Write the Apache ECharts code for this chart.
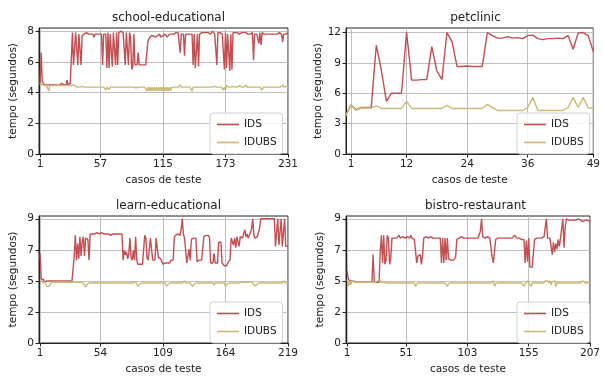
<!DOCTYPE html>
<html>
<head>
<meta charset="utf-8">
<script src="https://cdn.jsdelivr.net/npm/echarts@6/dist/echarts.min.js"></script>
<style>
  html, body { margin: 0; padding: 0; background: #fff; }
  #chart { width: 603px; height: 379px; }
</style>
</head>
<body>
<div id="chart"></div>
<script>
// school-educational, casos 1..231
const schoolIds = [
  4.5,6.6,4.7,4.6,4.5,4.5,4.5,4.6,4.5,4.5,
  4.5,4.5,4.5,4.6,4.5,4.5,4.5,4.5,4.5,4.5,
  4.6,4.5,4.5,4.5,4.5,4.8,4.5,4.5,4.6,4.5,
  7.9,5.8,5.8,7.9,7.8,5.8,7.8,7.9,5.8,7.7,
  7.8,7.8,7.9,7.9,7.8,7.8,7.9,7.8,7.7,7.8,
  7.6,7.8,7.9,7.8,7.7,7.8,7.9,7.8,5.8,7.8,
  7.9,7.8,5.6,7.9,5.6,7.8,7.9,5.7,7.9,7.8,
  5.8,7.9,5.8,7.9,7.9,8.0,7.9,7.9,7.8,5.8,
  7.9,7.9,5.8,7.9,7.6,5.5,5.7,7.8,5.8,5.8,
  5.8,6.6,5.8,5.8,5.8,5.9,5.8,5.8,5.8,5.8,
  7.3,7.5,7.6,7.7,7.6,7.7,7.8,7.6,7.7,7.7,
  7.6,7.8,7.6,7.7,7.7,7.6,7.8,7.7,7.6,7.7,
  7.8,7.7,7.8,7.9,7.8,7.8,7.9,7.8,7.9,7.8,
  6.6,7.8,7.9,7.8,6.4,7.8,7.9,7.8,7.9,7.8,
  7.9,7.8,5.8,7.8,5.6,5.7,7.8,5.7,7.8,7.9,
  7.9,7.8,7.9,8.0,7.9,7.8,7.9,7.9,7.8,7.9,
  8.0,7.9,7.8,7.9,5.8,7.9,7.8,7.9,7.9,7.8,
  7.9,5.5,7.9,5.6,7.8,7.9,5.4,7.8,5.5,7.9,
  7.8,7.9,7.8,7.9,7.9,7.8,7.9,7.9,8.0,7.9,
  7.8,7.9,7.9,7.8,7.9,7.8,7.9,7.9,6.1,7.8,
  7.9,7.8,7.9,7.2,7.9,7.1,7.9,7.8,7.8,7.9,
  7.8,7.8,7.8,7.9,7.8,7.8,7.8,7.9,7.8,7.8,
  7.8,7.8,7.9,7.8,7.8,7.3,7.8,7.9,7.8,7.9,
  7.9
];
const schoolIdubs = [
  4.6,4.5,4.5,4.45,4.45,4.5,4.45,4.45,4.1,4.45,
  4.45,4.45,4.5,4.45,4.45,4.45,4.45,4.5,4.45,4.45,
  4.45,4.45,4.5,4.45,4.45,4.45,4.45,4.45,4.5,4.45,
  4.55,4.5,4.55,4.4,4.5,4.35,4.35,4.35,4.35,4.4,
  4.35,4.35,4.35,4.35,4.35,4.35,4.4,4.35,4.35,4.35,
  4.35,4.35,4.35,4.35,4.4,4.35,4.35,4.35,4.35,4.35,
  4.35,4.15,4.35,4.35,4.2,4.35,4.35,4.35,4.35,4.35,
  4.35,4.35,4.4,4.35,4.35,4.35,4.35,4.35,4.35,4.35,
  4.45,4.35,4.35,4.35,4.35,4.35,4.35,4.35,4.35,4.3,
  4.35,4.35,4.35,4.35,4.35,4.35,4.35,4.35,4.35,4.1,
  4.35,4.1,4.35,4.1,4.35,4.1,4.35,4.1,4.35,4.1,
  4.35,4.1,4.35,4.1,4.35,4.1,4.35,4.1,4.35,4.1,
  4.35,4.1,4.35,4.35,4.35,4.35,4.35,4.35,4.35,4.35,
  4.5,4.35,4.35,4.35,4.35,4.35,4.35,4.35,4.35,4.35,
  4.35,4.1,4.35,4.35,4.35,4.35,4.35,4.4,4.35,4.35,
  4.35,4.35,4.35,4.35,4.35,4.35,4.35,4.35,4.35,4.35,
  4.35,4.35,4.4,4.35,4.35,4.35,4.35,4.35,4.35,4.35,
  4.15,4.35,4.15,4.45,4.35,4.35,4.35,4.35,4.35,4.4,
  4.35,4.35,4.35,4.35,4.35,4.45,4.35,4.35,4.35,4.35,
  4.35,4.5,4.35,4.35,4.35,4.35,4.35,4.45,4.35,4.35,
  4.35,4.35,4.35,4.35,4.35,4.35,4.15,4.35,4.35,4.35,
  4.35,4.35,4.35,4.35,4.35,4.35,4.35,4.35,4.35,4.35,
  4.35,4.35,4.35,4.35,4.35,4.5,4.35,4.35,4.4,4.35,
  4.35
];

// petclinic, plotted at 0..49
const petIds = [
  3.9,4.85,4.35,4.6,4.6,4.6,10.75,8.3,5.2,6.0,
  6.0,6.0,12.05,7.3,7.3,7.35,7.35,10.6,8.2,7.35,
  12.0,11.1,8.65,8.65,8.7,8.65,8.65,8.65,12.0,11.7,
  11.45,11.45,11.6,11.45,11.5,11.4,11.7,11.75,11.4,11.3,
  11.4,11.4,11.45,11.4,11.7,10.35,11.95,12.0,11.7,10.1
];
const petIdubs = [
  3.8,4.85,4.3,4.55,4.55,4.55,4.75,4.5,4.5,4.5,
  4.5,4.5,5.2,4.5,4.5,4.5,4.5,4.5,4.5,4.5,
  4.8,4.5,4.5,4.5,4.5,4.5,4.5,4.5,4.9,4.6,
  4.3,4.3,4.3,4.3,4.3,4.3,4.6,5.6,4.3,4.3,
  4.3,4.3,4.3,4.3,4.6,5.6,4.6,5.6,4.55,4.55
];

// learn-educational, casos 1..219
const learnIds = [
  6.5,4.6,4.6,4.6,4.4,4.5,4.5,4.5,4.5,4.5,
  4.5,4.5,4.5,4.5,4.5,4.5,4.5,4.5,4.5,4.5,
  4.5,4.5,4.5,4.5,4.5,4.5,4.5,4.5,4.5,4.5,
  6.3,7.8,6.0,7.2,6.1,7.7,6.3,7.3,7.7,6.3,
  7.6,7.7,7.5,6.0,7.9,7.8,7.9,8.0,7.9,7.9,
  8.0,7.9,7.9,7.9,8.0,7.9,7.9,7.8,7.9,8.0,
  7.9,7.9,7.8,7.9,7.9,7.8,7.9,7.8,7.9,7.8,
  7.9,7.8,7.9,6.0,6.7,6.4,6.6,6.1,6.5,7.6,
  6.2,6.0,6.7,6.0,7.7,6.0,5.7,5.8,5.7,5.8,
  5.7,5.8,7.8,7.6,6.2,6.0,5.9,7.6,7.7,6.0,
  5.9,6.0,7.6,7.7,6.2,6.3,6.1,5.9,5.7,5.7,
  5.8,5.7,5.8,5.7,5.8,6.0,5.9,6.0,7.6,7.8,
  7.7,7.9,7.8,7.8,8.2,9.0,7.9,7.6,7.5,5.8,
  5.8,6.8,6.0,7.5,7.6,7.6,7.7,7.6,5.9,5.9,
  6.0,5.9,6.0,5.9,7.7,7.8,7.8,7.7,7.8,7.6,
  5.8,5.7,5.8,6.5,5.8,5.7,5.8,7.3,7.4,7.3,
  5.8,5.7,5.6,5.7,5.6,5.8,5.7,6.0,7.6,7.7,
  7.1,7.6,6.9,7.7,7.6,7.0,7.7,7.8,7.6,7.7,
  8.2,7.7,7.9,7.6,7.8,8.0,8.3,9.0,7.8,7.6,
  7.6,7.7,7.6,8.3,9.0,9.0,9.0,9.0,9.0,9.0,
  9.0,9.0,9.0,9.0,9.0,9.0,9.0,7.0,7.0,9.0,
  7.1,7.0,9.0,7.0,7.1,9.0,7.0,7.1,7.0
];
const learnIdubs = [
  4.6,4.5,4.4,4.5,4.4,4.3,4.1,4.1,4.1,4.3,
  4.4,4.4,4.4,4.4,4.4,4.4,4.4,4.4,4.4,4.4,
  4.4,4.4,4.4,4.4,4.4,4.4,4.4,4.4,4.4,4.4,
  4.4,4.4,4.4,4.4,4.4,4.4,4.4,4.4,4.4,4.2,
  4.05,4.05,4.3,4.35,4.35,4.35,4.35,4.35,4.35,4.35,
  4.35,4.35,4.35,4.35,4.35,4.35,4.35,4.35,4.35,4.35,
  4.35,4.35,4.35,4.35,4.35,4.35,4.35,4.35,4.35,4.35,
  4.35,4.35,4.35,4.35,4.35,4.35,4.35,4.35,4.35,4.35,
  4.35,4.35,4.35,4.35,4.45,4.4,4.1,4.1,4.3,4.35,
  4.35,4.35,4.35,4.35,4.35,4.35,4.35,4.35,4.35,4.35,
  4.35,4.35,4.35,4.35,4.35,4.35,4.35,4.35,4.35,4.35,
  4.35,4.1,4.1,4.3,4.35,4.35,4.35,4.35,4.35,4.35,
  4.35,4.35,4.35,4.35,4.35,4.35,4.35,4.5,4.35,4.35,
  4.35,4.35,4.35,4.35,4.1,4.1,4.3,4.35,4.35,4.35,
  4.35,4.35,4.35,4.35,4.35,4.35,4.35,4.35,4.35,4.35,
  4.35,4.35,4.35,4.2,4.35,4.35,4.35,4.35,4.35,4.35,
  4.35,4.35,4.35,4.1,4.1,4.3,4.35,4.35,4.35,4.35,
  4.35,4.35,4.35,4.35,4.35,4.35,4.45,4.4,4.4,4.4,
  4.5,4.4,4.4,4.4,4.4,4.45,4.35,4.35,4.35,4.1,
  4.1,4.3,4.35,4.35,4.35,4.35,4.35,4.35,4.35,4.35,
  4.35,4.35,4.35,4.35,4.35,4.35,4.35,4.35,4.35,4.35,
  4.35,4.35,4.35,4.35,4.5,4.45,4.35,4.35,4.35
];

// bistro-restaurant, casos 1..207
const bistroIds = [
  5.2,4.6,4.6,4.5,4.6,4.5,4.4,4.4,4.4,4.4,
  4.4,4.4,4.4,4.4,4.4,4.4,4.4,4.4,4.4,4.4,
  4.4,4.4,6.4,4.4,4.4,4.4,4.5,4.4,6.5,7.8,
  5.8,7.8,5.7,6.0,7.8,7.6,5.7,6.2,7.6,7.6,
  7.6,7.7,7.6,7.6,7.8,7.6,7.6,7.7,7.6,7.6,
  7.6,7.7,7.6,7.6,7.8,7.6,7.6,7.5,7.6,5.8,
  6.3,6.4,6.4,5.7,6.4,7.6,7.6,7.7,7.6,7.6,
  7.6,7.7,7.6,7.6,7.6,7.6,7.7,7.6,7.6,7.6,
  5.8,7.6,5.8,7.6,6.0,7.6,6.1,6.0,6.0,6.1,
  6.0,6.1,6.2,7.5,7.6,7.6,7.6,7.7,7.6,7.6,
  7.6,7.6,7.7,7.6,7.6,7.6,7.6,7.6,7.7,7.6,
  7.6,7.6,7.6,8.1,9.0,7.7,7.6,7.6,7.6,7.7,
  7.6,7.6,7.6,6.2,5.8,5.8,7.5,7.6,7.6,7.6,
  7.6,7.6,7.6,7.6,7.6,7.6,7.6,7.6,7.6,7.6,
  7.6,7.7,7.8,7.7,7.6,7.6,7.6,7.5,7.5,7.4,
  7.5,5.8,7.4,5.9,7.6,5.5,5.6,5.5,5.4,7.5,
  7.6,7.6,7.6,7.6,7.6,7.6,7.6,7.7,7.6,9.0,
  7.6,7.6,7.6,7.5,6.4,7.3,6.6,7.2,6.8,7.5,
  7.0,7.6,7.6,9.0,6.9,8.4,9.0,8.9,8.9,8.9,
  8.9,9.0,8.9,8.9,8.9,8.9,9.0,8.9,8.9,8.9,
  8.8,8.9,8.9,8.9,8.9,8.8,8.8
];
const bistroIdubs = [
  4.6,4.1,4.5,4.2,4.5,4.6,4.5,4.4,4.4,4.4,
  4.4,4.4,4.4,4.4,4.4,4.4,4.4,4.4,4.4,4.4,
  4.4,4.4,4.4,4.4,4.4,4.4,4.5,4.4,4.6,4.4,
  4.5,4.4,4.35,4.35,4.35,4.35,4.35,4.35,4.35,4.35,
  4.35,4.35,4.35,4.35,4.35,4.35,4.35,4.35,4.35,4.35,
  4.35,4.35,4.35,4.35,4.35,4.35,4.35,4.35,4.1,4.3,
  4.35,4.35,4.35,4.35,4.35,4.35,4.35,4.35,4.35,4.35,
  4.35,4.35,4.35,4.35,4.35,4.35,4.35,4.35,4.35,4.35,
  4.35,4.35,4.35,4.35,4.35,4.1,4.3,4.35,4.35,4.35,
  4.35,4.35,4.35,4.35,4.35,4.35,4.35,4.35,4.35,4.35,
  4.35,4.35,4.35,4.35,4.35,4.35,4.35,4.35,4.35,4.35,
  4.35,4.35,4.35,4.35,4.35,4.35,4.35,4.35,4.35,4.35,
  4.35,4.35,4.35,4.35,4.5,4.1,4.3,4.35,4.35,4.35,
  4.35,4.35,4.35,4.35,4.35,4.35,4.35,4.35,4.35,4.35,
  4.35,4.35,4.35,4.35,4.35,4.35,4.35,4.35,4.35,4.35,
  4.1,4.3,4.35,4.5,4.35,4.3,4.1,4.35,4.35,4.35,
  4.35,4.35,4.35,4.35,4.35,4.35,4.35,4.35,4.5,4.4,
  4.5,4.35,4.5,4.2,4.45,4.35,4.5,4.1,4.35,4.35,
  4.35,4.35,4.35,4.35,4.35,4.35,4.35,4.35,4.35,4.35,
  4.35,4.35,4.35,4.35,4.35,4.35,4.35,4.35,4.35,4.35,
  4.5,4.45,4.35,4.35,4.35,4.35,4.35
];

const schoolXTicks = [1, 57, 115, 173, 231];
const petXTicks = [1, 12, 24, 36, 49];
const learnXTicks = [1, 54, 109, 164, 219];
const bistroXTicks = [1, 51, 103, 155, 207];
const schoolYTicks = [0, 2, 4, 6, 8];
const petYTicks = [0, 3, 6, 9, 12];
const learnYTicks = [0, 2.25, 4.5, 6.75, 9];
const bistroYTicks = [0, 2.25, 4.5, 6.75, 9];

const RED = '#C44E52';
const GOLD = '#CCB974';
const FONT = 'DejaVu Sans';
const TXT = '#222';

const panels = [
  { title: 'school-educational', ids: schoolIds, idubs: schoolIdubs, x0: 1, xMax: 231,
    xTicks: schoolXTicks, yTicks: schoolYTicks, yMax: 8.2, left: 39, top: 28, h: 126 },
  { title: 'petclinic', ids: petIds, idubs: petIdubs, x0: 0, xMax: 49,
    xTicks: petXTicks, yTicks: petYTicks, yMax: 12.45, left: 346, top: 28, h: 126 },
  { title: 'learn-educational', ids: learnIds, idubs: learnIdubs, x0: 1, xMax: 219,
    xTicks: learnXTicks, yTicks: learnYTicks, yMax: 9.2, left: 39, top: 216, h: 127 },
  { title: 'bistro-restaurant', ids: bistroIds, idubs: bistroIdubs, x0: 1, xMax: 207,
    xTicks: bistroXTicks, yTicks: bistroYTicks, yMax: 9.2, left: 346, top: 216, h: 127 }
];
const W = 249;

const toPairs = (arr, x0) => arr.map((v, i) => [i + x0, v]);

const option = {
  animation: false,
  backgroundColor: '#fff',
  textStyle: { fontFamily: FONT },
  title: [], grid: [], xAxis: [], yAxis: [], legend: [], series: []
};

panels.forEach((p, k) => {
  option.title.push({
    text: p.title,
    left: p.left + W / 2, top: p.top - 21, textAlign: 'center',
    textStyle: { fontFamily: FONT, fontSize: 12, fontWeight: 'normal', color: TXT }
  });
  option.grid.push({
    left: p.left, top: p.top, width: W, height: p.h,
    show: true, borderColor: '#222', borderWidth: 1, backgroundColor: 'transparent'
  });
  option.xAxis.push({
    type: 'value', gridIndex: k, min: 0, max: p.xMax,
    name: 'casos de teste', nameLocation: 'middle', nameGap: 21,
    nameTextStyle: { fontFamily: FONT, fontSize: 10.5, color: TXT },
    axisLine: { show: true, onZero: false, lineStyle: { color: '#222', width: 1 } },
    axisTick: { show: true, length: 3.5, customValues: p.xTicks, lineStyle: { color: '#222' } },
    axisLabel: { customValues: p.xTicks, fontFamily: FONT, fontSize: 10.5, color: TXT, margin: 5 },
    splitLine: { show: true, lineStyle: { color: '#b0b0b0', width: 0.8 } }
  });
  option.yAxis.push({
    type: 'value', gridIndex: k, min: 0, max: p.yMax,
    name: 'tempo (segundos)', nameLocation: 'middle', nameGap: 20, nameRotate: 90,
    nameTextStyle: { fontFamily: FONT, fontSize: 10.5, color: TXT },
    axisLine: { show: true, lineStyle: { color: '#222', width: 1 } },
    axisTick: { show: true, length: 3.5, customValues: p.yTicks, lineStyle: { color: '#222' } },
    axisLabel: { customValues: p.yTicks, fontFamily: FONT, fontSize: 10.5, color: TXT, margin: 5,
      formatter: v => String(Math.round(v)) },
    splitLine: { show: true, lineStyle: { color: '#b0b0b0', width: 0.8 } }
  });
  option.legend.push({
    data: ['IDS', 'IDUBS'], orient: 'vertical',
    left: p.left + W - 78, top: p.top + p.h - 41,
    icon: 'rect', itemWidth: 22, itemHeight: 1.6, itemGap: 7,
    padding: [6, 6, 6, 7],
    backgroundColor: 'rgba(255,255,255,0.85)', borderColor: '#d0d0d0', borderWidth: 1, borderRadius: 3,
    textStyle: { fontFamily: FONT, fontSize: 10.5, color: TXT }
  });
  option.series.push({
    name: 'IDS', type: 'line', xAxisIndex: k, yAxisIndex: k,
    data: toPairs(p.ids, p.x0), symbol: 'none', color: RED,
    lineStyle: { color: RED, width: 1.4 }
  });
  option.series.push({
    name: 'IDUBS', type: 'line', xAxisIndex: k, yAxisIndex: k,
    data: toPairs(p.idubs, p.x0), symbol: 'none', color: GOLD,
    lineStyle: { color: GOLD, width: 1.4 }
  });
});

const chart = echarts.init(document.getElementById('chart'), null, { renderer: 'canvas' });
chart.setOption(option);
</script>
</body>
</html>
